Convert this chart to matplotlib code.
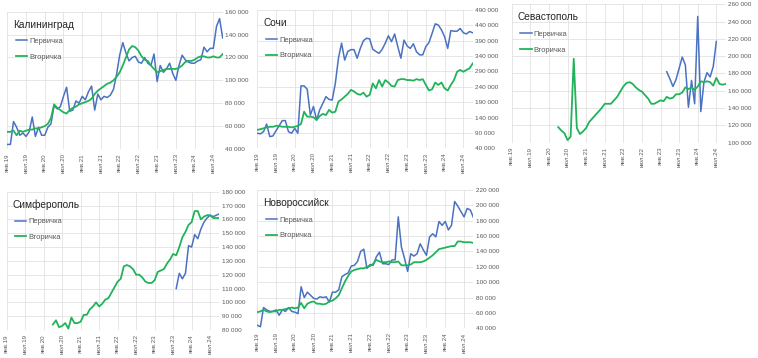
import numpy as np
import matplotlib.pyplot as plt

plt.rcParams['font.family'] = ['Liberation Sans', 'DejaVu Sans']

# месяцы: янв.2019 .. окт.2024
months = np.arange(70)
tick_labels = ['янв.19', 'июл.19', 'янв.20', 'июл.20', 'янв.21', 'июл.21',
               'янв.22', 'июл.22', 'янв.23', 'июл.23', 'янв.24', 'июл.24']
series_names = ['Первичка', 'Вторичка']

# Калининград
kal_primary = [44, 44, 64, 59, 52, 54, 51, 55, 68, 51, 59, 52, 52, 59, 62, 78, 75, 77,
               86, 94, 73, 74, 82, 80, 86, 83, 90, 95, 74, 88, 83, 86, 85, 87, 92, 105,
               122, 133, 124, 117, 120, 121, 116, 115, 120, 115, 113, 123, 99, 113, 107,
               110, 115, 106, 100, 113, 122, 118, 116, 115, 115, 117, 118, 129, 125, 128,
               128, 147, 154, 137]
kal_secondary = [55, 55, 56, 52, 56, 55, 56, 57, 57, 58, 58, 59, 60, 62, 67, 79, 76, 74,
                 72, 71, 74, 76, 77, 79, 80, 81, 82, 84, 88, 91, 93, 95, 97, 98, 100, 103,
                 107, 113, 120, 127, 130, 129, 126, 121, 118, 117, 113, 110, 107, 108, 109,
                 110, 110, 110, 110, 111, 113, 116, 117, 117, 118, 120, 121, 121, 120, 120,
                 121, 120, 120, 123]

# Сочи
sochi_primary = [89, 87, 94, 119, 78, 80, 97, 113, 130, 130, 94, 89, 105, 89, 243, 243,
                 232, 148, 176, 132, 165, 186, 208, 199, 197, 251, 333, 382, 327, 355, 361,
                 361, 333, 365, 390, 398, 396, 362, 355, 349, 362, 382, 406, 387, 412, 371,
                 333, 392, 373, 365, 380, 354, 344, 344, 371, 384, 414, 445, 441, 425, 403,
                 365, 423, 421, 421, 430, 416, 412, 420, 416]
sochi_secondary = [100, 102, 105, 108, 110, 110, 113, 113, 110, 110, 110, 108, 110, 113,
                   119, 159, 143, 143, 141, 132, 145, 152, 148, 165, 156, 159, 192, 199,
                   208, 217, 230, 225, 217, 214, 221, 208, 214, 251, 235, 262, 241, 262,
                   254, 243, 241, 262, 265, 265, 262, 262, 260, 265, 262, 265, 246, 228,
                   232, 254, 246, 254, 235, 228, 246, 262, 289, 295, 289, 295, 300, 316]

# Севастополь (данные начинаются позже)
sev_primary_start = 50
sev_primary = [182, 174, 165, 173, 186, 199, 190, 141, 172, 145, 246, 136, 170, 181, 176,
               188, 217]
sev_secondary_start = 15
sev_secondary = [118, 114, 111, 103, 107, 197, 117, 110, 113, 117, 124, 128, 132, 136, 140,
                 145, 145, 145, 149, 153, 159, 165, 169, 170, 168, 164, 161, 159, 155, 151,
                 145, 145, 147, 149, 148, 153, 151, 152, 156, 156, 158, 164, 162, 164, 161,
                 165, 171, 170, 171, 170, 166, 175, 168, 167, 168]

# Симферополь
simf_primary_start = 55
simf_primary = [110, 121, 117, 121, 141, 140, 149, 146, 153, 158, 161, 163, 162, 163, 164]
simf_secondary_start = 15
simf_secondary = [84, 87, 82, 83, 85, 81, 89, 85, 85, 86, 91, 91, 95, 97, 100, 97, 99, 102,
                  103, 107, 111, 115, 117, 126, 127, 126, 124, 120, 120, 118, 115, 114, 114,
                  116, 122, 123, 124, 128, 131, 135, 134, 140, 147, 151, 156, 158, 166, 166,
                  160, 162, 163, 163, 161, 161, 161]

# Новороссийск
novo_primary = [44, 42, 67, 64, 62, 62, 64, 57, 64, 62, 67, 62, 61, 59, 94, 80, 87, 83, 79,
                78, 81, 80, 81, 74, 87, 87, 90, 107, 110, 112, 121, 122, 127, 140, 143, 118,
                123, 122, 133, 139, 124, 124, 123, 129, 129, 185, 146, 131, 114, 137, 134,
                137, 150, 142, 135, 159, 163, 159, 179, 174, 179, 168, 174, 205, 199, 192,
                185, 196, 194, 184]
novo_secondary = [61, 62, 64, 62, 61, 62, 62, 64, 64, 65, 66, 67, 66, 67, 73, 66, 72, 74,
                  75, 72, 72, 71, 72, 75, 76, 79, 83, 92, 101, 108, 114, 116, 117, 118, 118,
                  120, 121, 124, 129, 127, 126, 126, 127, 126, 126, 127, 122, 122, 122, 123,
                  126, 126, 126, 127, 129, 132, 135, 139, 143, 144, 145, 146, 147, 147, 153,
                  153, 152, 152, 152, 151]


def full(values, start=0):
    arr = np.full(len(months), np.nan)
    arr[start:start + len(values)] = np.array(values) * 1000
    return arr


panels = [
    ('Калининград', full(kal_primary), full(kal_secondary), (40000, 160000, 20000),
     [0.0096, 0.5838, 0.2842, 0.3835]),
    ('Сочи', full(sochi_primary), full(sochi_secondary), (40000, 490000, 50000),
     [0.3394, 0.5858, 0.2842, 0.3863]),
    ('Севастополь', full(sev_primary, sev_primary_start), full(sev_secondary, sev_secondary_start),
     (100000, 260000, 20000), [0.6751, 0.6014, 0.2822, 0.3866]),
    ('Симферополь', full(simf_primary, simf_primary_start), full(simf_secondary, simf_secondary_start),
     (80000, 180000, 10000), [0.0088, 0.0782, 0.2806, 0.3863]),
    ('Новороссийск', full(novo_primary), full(novo_secondary), (40000, 220000, 20000),
     [0.3394, 0.0830, 0.2852, 0.3863]),
]

blue = '#4a72c2'
green = '#22b35a'
grid_c = '#e2e2e2'
text_c = '#595959'

fig = plt.figure(figsize=(7.58, 3.58), dpi=100)

for title, prim, sec, (ymin, ymax, ystep), rect in panels:
    ax = fig.add_axes(rect)
    ax.plot(months, prim, color=blue, lw=1.1, label=series_names[0])
    ax.plot(months, sec, color=green, lw=1.3, label=series_names[1])

    ax.set_xlim(0, 69)
    ax.set_ylim(ymin, ymax)
    yt = np.arange(ymin, ymax + 1, ystep)
    ax.set_yticks(yt)
    ax.set_yticklabels([f'{v:,}'.replace(',', ' ') for v in yt])
    ax.set_xticks(months[::6])
    ax.set_xticklabels(tick_labels, rotation=90)

    ax.yaxis.tick_right()
    ax.tick_params(axis='y', length=0, pad=2, labelsize=4.6, labelcolor=text_c)
    ax.tick_params(axis='x', length=0, pad=3, labelsize=4.4, labelcolor=text_c)
    ax.grid(True, color=grid_c, lw=0.6)
    ax.set_axisbelow(True)
    for s in ax.spines.values():
        s.set_visible(False)

    ax.annotate(title, xy=(0, 1), xycoords='axes fraction', xytext=(4.5, -11.5),
                textcoords='offset points', fontsize=7.3, color='#262626',
                ha='left', va='baseline')
    ax.legend(loc='upper left', bbox_to_anchor=(0.04, 0.81), frameon=False,
              fontsize=5.4, handlelength=1.5, handletextpad=0.3, labelspacing=1.15,
              borderaxespad=0, borderpad=0, labelcolor=text_c)

fig.savefig('out.png', dpi=100, facecolor='white')
